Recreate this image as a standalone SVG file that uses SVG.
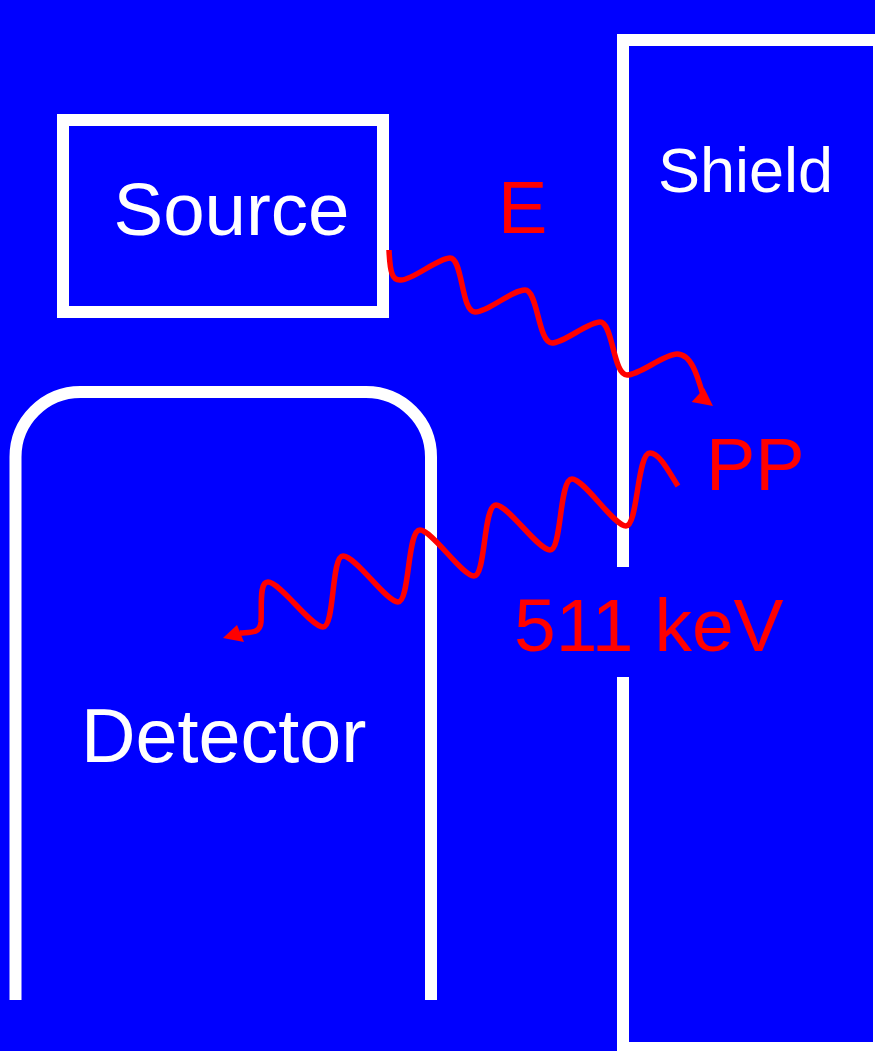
<svg xmlns="http://www.w3.org/2000/svg" width="875" height="1051" viewBox="0 0 875 1051">
<style>
.frame{fill:none;stroke:#FFFFFF;stroke-width:12;stroke-linecap:butt;stroke-linejoin:miter}
.wlabel{fill:#FFFFFF;font-family:"Liberation Sans",Arial,sans-serif;font-size:74px}
.rlabel{fill:#FF0000;font-family:"Liberation Sans",Arial,sans-serif;font-size:74px}
.wave{fill:none;stroke:#FF0000;stroke-width:5.5;stroke-linecap:butt;stroke-linejoin:round}
.head{fill:#FF0000;stroke:none}
</style>
<rect x="0" y="0" width="875" height="1051" fill="#0000FF"/>
<g id="source">
<rect class="frame" x="63" y="120" width="320" height="192"/>
<text class="wlabel" x="113.5" y="235" style="font-size:74.5px">Source</text>
</g>
<g id="shield">
<path class="frame" d="M623,567 V40 H879 V1048 H623 V677"/>
<text class="wlabel" x="658" y="192" style="font-size:63px">Shield</text>
</g>
<g id="detector">
<path class="frame" d="M15.5,1000 V457 A65,65 0 0 1 80.5,392 H366 A65,65 0 0 1 431,457 V1000"/>
<text class="wlabel" x="81" y="762" style="font-size:75.5px">Detector</text>
</g>
<g id="labels">
<text class="rlabel" x="498" y="233">E</text>
<text class="rlabel" x="706" y="490">PP</text>
<text class="rlabel" x="514" y="651" style="font-size:75px">511 keV</text>
</g>
<g id="connectors">
<path class="wave" d="M389,250 C390,272 392,281 401,280 C413,280 438,258 450,258 C463,258 461,312 475,312 C488,312 512,290 525,290 C538,290 538,343 552,343 C564,343 588,322 600,322 C613,322 613,375 627,375 C640,375 664,354 677,354 C692,354 698,378 703,395"/>
<polygon class="head" points="713,406 691.7,402 704.3,388.3"/>
<path class="wave" d="M240,633 C250,632 260,634 261,622 C262,605 259,582 268,582 C280,582 311,627 323,627 C335,627 331,556 343,556 C356,556 386,602 398,602 C410,602 407,530 420,530 C432,530 462,576 474,576 C486,576 483,505 496,505 C508,505 538,550 550,550 C562,550 559,479 572,479 C584,479 614,526 626,526 C638,526 637,453 650,453 C660,453 670,474 678,486"/>
<polygon class="head" points="223,638 237,625 244,642"/>
</g>
</svg>
